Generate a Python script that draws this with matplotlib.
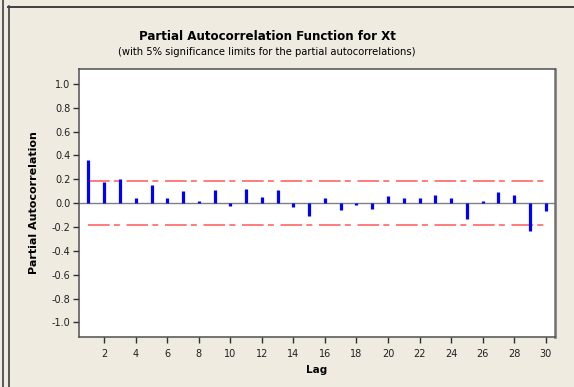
import matplotlib

matplotlib.use("Agg")
import matplotlib.pyplot as plt
from matplotlib.lines import Line2D

# partial autocorrelations
lags = list(range(1, 31))
pacf = [
    0.36, 0.18, 0.205, 0.04, 0.155, 0.047, 0.105, 0.015, 0.113, -0.02,
    0.12, 0.055, 0.113, -0.03, -0.105, 0.04, -0.055, -0.015, -0.05, 0.063,
    0.04, 0.047, 0.07, 0.047, -0.13, 0.02, 0.097, 0.07, -0.23, -0.07,
]
sig_limit = 0.185
yticks = [-1.0, -0.8, -0.6, -0.4, -0.2, 0.0, 0.2, 0.4, 0.6, 0.8, 1.0]
ytick_labels = ["-1.0", "-0.8", "-0.6", "-0.4", "-0.2", "0.0", "0.2", "0.4", "0.6", "0.8", "1.0"]
xticks = list(range(2, 31, 2))

bg = "#EFEBE1"
W, H = 574, 387

fig = plt.figure(figsize=(W / 100, H / 100), dpi=100, facecolor=bg)
ax = fig.add_axes([79.3 / W, 1 - 336.7 / H, (554.7 - 79.3) / W, (336.7 - 69) / H])
ax.set_facecolor("white")

ax.axhline(0, color="#808080", linewidth=1.0, zorder=1)
dash = (0, (13, 2.5, 3.6, 4))
ax.hlines([sig_limit, -sig_limit], 1, 30, colors="#FF6666", linewidth=1.2,
          linestyles=[dash, dash], zorder=2)
ax.vlines(lags, 0, pacf, colors="#0000FF", linewidth=2.3, zorder=3)

ax.set_xlim(0.42, 30.57)
ax.set_ylim(-1.12, 1.125)
ax.set_yticks(yticks)
ax.set_yticklabels(ytick_labels)
ax.set_xticks(xticks)
ax.tick_params(axis="both", labelsize=7, color="#303030", labelcolor="#202020",
               length=4.5, width=1)
ax.tick_params(axis="y", pad=2)
ax.tick_params(axis="x", pad=4)
for s in ax.spines.values():
    s.set_color("#505050")
    s.set_linewidth(1.1)
ax.spines["right"].set_color("#707070")
ax.spines["right"].set_linewidth(1.8)

ax.set_xlabel("Lag", fontsize=7.5, fontweight="bold", labelpad=5)
ax.set_ylabel("Partial Autocorrelation", fontsize=8, fontweight="bold", labelpad=9)

fig.text(267 / W, 1 - 36.7 / H, "Partial Autocorrelation Function for Xt",
         ha="center", va="center", fontsize=8.6, fontweight="bold")
fig.text(267 / W, 1 - 51.7 / H,
         "(with 5% significance limits for the partial autocorrelations)",
         ha="center", va="center", fontsize=7.2)

# outer panel border
fig.add_artist(Line2D([2.5 / W, 2.5 / W], [0, 1], color="#303030", linewidth=1.1))
fig.add_artist(Line2D([8.5 / W, 8.5 / W], [0, 1 - 6 / H], color="#303030", linewidth=1.1))
fig.add_artist(Line2D([8 / W, 1], [1 - 6.5 / H, 1 - 6.5 / H], color="#404040", linewidth=1.4))

fig.savefig("out.png", dpi=100, facecolor=bg)
